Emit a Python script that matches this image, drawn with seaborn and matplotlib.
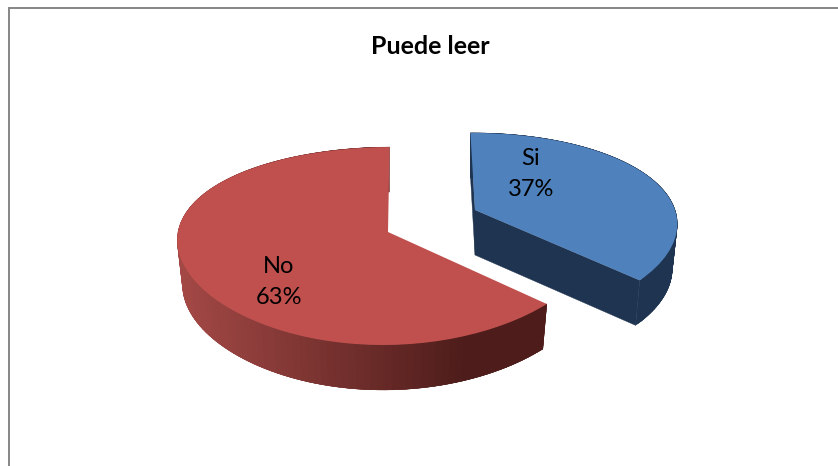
import numpy as np
import matplotlib
matplotlib.use("Agg")
import matplotlib.pyplot as plt
import seaborn as sns
from matplotlib.colors import to_rgb
from matplotlib.transforms import Transform

# Data
categories = ["Si", "No"]
shares = [37, 63]
title = "Puede leer"

# Colours: top face of each slice, dark side of blue, red side gradient
palette = sns.color_palette(["#4f81bd", "#c0504d"])
blue_side = "#1f3450"
red_side_left = "#a34845"
red_side_right = "#4e1d1b"

# Slice placement in pixels: apex, radii, perspective in x and y, a small skew
slice_geom = [
    dict(cx=475, cy=210, rx=200, ry=91.5, wx=0.1414, wy=0.188, skew=-1.5),
    dict(cx=388, cy=232, rx=210, ry=97, wx=0.06, wy=0.1414, skew=5),
]
depth = 45
bottom_scale = 0.975


def project(x, y, g, scale=1.0, drop=0):
    # perspective view of a unit disc lying on the floor
    px = g["cx"] + scale * (g["rx"] * x / (1 + g["wx"] * y) + g["skew"] * y)
    py = g["cy"] - g["ry"] * y / (1 + g["wy"] * y) + drop
    return px, py


class TiltTransform(Transform):
    input_dims = 2
    output_dims = 2

    def __init__(self, g):
        super().__init__()
        self.g = g

    def transform_non_affine(self, values):
        px, py = project(values[:, 0], values[:, 1], self.g)
        return np.column_stack([px, py])


def top_point(theta, g):
    t = np.radians(theta)
    return project(np.cos(t), np.sin(t), g)


def low_point(theta, g):
    t = np.radians(theta)
    return project(np.cos(t), np.sin(t), g, bottom_scale, depth)


def side_quad(ax, p0, p1, p2, p3, color, z):
    ax.fill([p0[0], p1[0], p2[0], p3[0]], [p0[1], p1[1], p2[1], p3[1]],
            facecolor=color, edgecolor=color, lw=0.3, zorder=z)


def draw_rim(ax, theta1, theta2, g, colorfunc, z):
    # strips overlap the next one so no seams show between them
    grid = np.linspace(theta1, theta2, 121)
    for i in range(len(grid) - 1):
        a = grid[i]
        b = grid[min(i + 3, len(grid) - 1)]
        t0, t1 = top_point(a, g), top_point(b, g)
        b1, b0 = low_point(b, g), low_point(a, g)
        side_quad(ax, t0, t1, b1, b0, colorfunc(t0[0]), z)


sns.set_theme(style="white")
plt.rcParams["font.family"] = ["Lato", "DejaVu Sans"]

fig, ax = plt.subplots(figsize=(8.38, 4.66), dpi=100)
fig.patch.set_facecolor("white")
ax.set_position([0, 0, 1, 1])

wedges, _ = ax.pie(shares, colors=palette, startangle=91, counterclock=False)
ax.set_aspect("auto")
ax.set_xlim(0, 838)
ax.set_ylim(466, 0)
ax.axis("off")

blue, red = wedges
geom_blue, geom_red = slice_geom

# tops of the slices, re-projected with the tilt
for w, g in zip(wedges, slice_geom):
    w.set_transform(TiltTransform(g) + ax.transData)
    w.set_zorder(5)
    w.set_edgecolor("none")


def red_color(x):
    f = np.clip((x - 180) / (460 - 180), 0, 1)
    c0, c1 = np.array(to_rgb(red_side_left)), np.array(to_rgb(red_side_right))
    return tuple(c0 + (c1 - c0) * f)


# blue side: curved rim, then the left and front cuts
apex = (geom_blue["cx"], geom_blue["cy"])
apex_low = project(0, 0, geom_blue, bottom_scale, depth)
draw_rim(ax, blue.theta1, blue.theta2, geom_blue, lambda x: blue_side, 2)
side_quad(ax, apex, top_point(blue.theta2, geom_blue), low_point(blue.theta2, geom_blue), apex_low, blue_side, 3)
side_quad(ax, apex, top_point(blue.theta1, geom_blue), low_point(blue.theta1, geom_blue), apex_low, blue_side, 3)

# red side: only the rim shows, the cut faces are behind the top
draw_rim(ax, red.theta1, red.theta2, geom_red, red_color, 2)

# labels
label_pos = [(531, 174), (279, 282)]
for name, share, (lx, ly) in zip(categories, shares, label_pos):
    ax.text(lx, ly, f"{name}\n{share}%", ha="center", va="center",
            fontsize=17, color="black", linespacing=1.58, zorder=6)

ax.text(430, 47, title, ha="center", va="center", fontsize=18,
        fontweight="bold", color="black")

# chart frame, only top and left are inside the crop
ax.plot([838, 9, 9], [8, 8, 466], color="#868686", lw=1.4, solid_joinstyle="miter", zorder=1)

fig.savefig("out.png", dpi=100)
